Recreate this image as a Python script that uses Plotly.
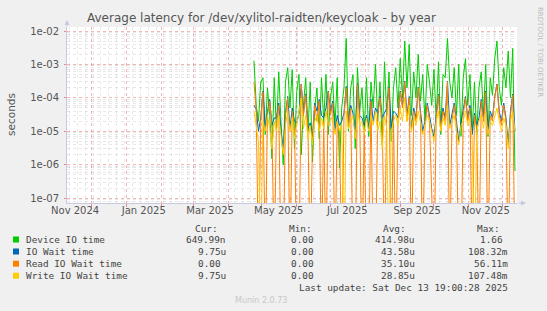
import pandas as pd
import plotly.graph_objects as go

# ---------------- data ----------------
start_date = "2025-04-24"
step_days = 2

device_io = [1.3e-3, 6e-5, 2e-5, 3e-4, 4e-4, 8e-6, 2e-4, 3e-5, 1.5e-6, 4e-4,
             1e-5, 6e-4, 2e-5, 1e-6, 3e-4, 8e-4, 5e-5, 7e-4, 3e-6, 1.5e-4,
             5e-4, 2e-6, 6e-5, 4e-4, 1e-5, 3e-4, 1.2e-6, 5e-5, 2e-4, 6e-6,
             4e-4, 2e-5, 5e-4, 8e-6, 1e-4, 3e-4, 1.5e-5, 4e-4, 8e-7, 5e-5,
             2e-4, 6e-3, 1e-5, 2e-4, 5e-4, 3e-6, 8e-4, 4e-5, 2e-4, 1e-5,
             4e-4, 7e-6, 3e-4, 5e-5, 1e-3, 2e-5, 3e-4, 4e-6, 1.2e-3, 3e-5,
             6e-4, 5e-6, 2e-4, 8e-4, 5e-5, 1.5e-3, 1e-4, 5e-3, 2e-4, 4e-3,
             3e-5, 6e-4, 1e-4, 2e-3, 8e-5, 5e-4, 2e-5, 1e-3, 3e-4, 6e-5,
             7e-4, 2e-5, 1.2e-3, 8e-6, 5e-4, 4e-4, 6e-3, 3e-4, 1e-4, 8e-4,
             3e-5, 1e-3, 7e-6, 4e-4, 1.5e-3, 6e-5, 5e-4, 1e-5, 3e-4, 8e-6,
             2e-4, 6e-4, 3e-5, 1e-3, 7e-6, 4e-4, 1.2e-4, 1.5e-3, 5e-3, 2e-4,
             6e-5, 8e-4, 2e-4, 2.5e-3, 1e-4, 3e-3, 6.5e-7]

io_wait = [6e-5, 4.5e-5, 1e-5, 2.5e-5, 1.6e-4, 1.2e-5, 4e-5, 9e-5, 1.5e-5, 2.5e-5,
           2.5e-5, 7e-5, 1e-5, 3e-6, 3.5e-5, 1.1e-4, 1.2e-5, 5e-5, 2e-5, 1.8e-5,
           3.5e-5, 2.6e-4, 3.5e-5, 1.3e-4, 1.2e-5, 1.8e-5, 7e-6, 7e-5, 4e-5, 9e-5,
           3e-5, 2.5e-5, 5e-5, 1.6e-4, 4e-5, 8e-5, 1e-5, 3e-5, 1.5e-5, 2e-5,
           3.5e-5, 2.2e-4, 2e-5, 6e-5, 3.5e-5, 8e-6, 2.7e-4, 3e-5, 2.5e-5, 1.5e-5,
           3e-5, 1.2e-5, 9e-5, 2e-5, 5e-5, 3.5e-5, 1.1e-4, 2.5e-5, 3.5e-5, 5e-5,
           2.1e-4, 1.2e-5, 4e-5, 3.5e-5, 2.5e-5, 1.6e-4, 6e-5, 3.2e-4, 3e-5, 1.1e-4,
           1.2e-5, 5e-5, 2.5e-5, 2.1e-4, 4e-5, 1e-5, 2e-5, 7e-5, 3e-5, 1.2e-5,
           7e-6, 3e-5, 1.3e-4, 1.5e-5, 5e-5, 2.5e-5, 3.1e-4, 1.5e-5, 3e-5, 7e-5,
           2e-5, 5e-6, 1.8e-5, 4e-5, 1.1e-4, 2.5e-5, 6e-5, 8e-6, 3.5e-5, 1.5e-5,
           2.5e-5, 9e-5, 2.5e-5, 1.6e-4, 1e-5, 4e-5, 2.5e-5, 1.1e-4, 2.6e-4, 4e-5,
           2e-5, 7e-5, 2.5e-5, 4e-6, 4e-5, 1.3e-4, 9.75e-6]

read_io = [3e-4, 4e-5, 0, 2e-5, 1.5e-4, 0, 3e-5, 8e-5, 1.2e-5, 0,
           2e-5, 6e-5, 0, 0, 3e-5, 1e-4, 0, 4e-5, 1.5e-5, 0,
           0, 2.5e-4, 3e-5, 1.2e-4, 1e-5, 0, 5e-6, 6e-5, 2e-5, 8e-5,
           0, 2e-5, 0, 1.5e-4, 3e-5, 7e-5, 0, 2e-5, 1e-5, 0,
           3e-5, 2e-4, 1.5e-5, 5e-5, 0, 0, 2.5e-4, 2e-5, 0, 1.2e-5,
           0, 0, 8e-5, 0, 0, 3e-5, 1e-4, 2e-5, 0, 4e-5,
           2e-4, 0, 3e-5, 0, 2e-5, 1.5e-4, 5e-5, 3e-4, 2e-5, 1e-4,
           0, 4e-5, 2e-5, 2e-4, 3e-5, 0, 1.5e-5, 6e-5, 2e-5, 0,
           0, 2.5e-5, 1.2e-4, 1e-5, 4e-5, 2e-5, 3e-4, 0, 2e-5, 6e-5,
           1.5e-5, 0, 0, 3e-5, 1e-4, 2e-5, 5e-5, 0, 3e-5, 1.2e-5,
           0, 8e-5, 2e-5, 1.5e-4, 0, 3e-5, 2e-5, 1e-4, 2.5e-4, 3e-5,
           1.5e-5, 6e-5, 2e-5, 0, 3e-5, 1.2e-4, 0]

write_io = [4e-5, 1.5e-5, 5e-6, 0, 2e-5, 1e-5, 3e-5, 1.2e-5, 3e-6, 2e-5,
            1e-5, 3e-5, 8e-6, 2e-6, 1.5e-5, 4e-5, 1e-5, 2.5e-5, 6e-6, 1.5e-5,
            3e-5, 1e-4, 1.2e-5, 3e-5, 6e-6, 1.5e-5, 4e-6, 2e-5, 3e-5, 1e-5,
            2.5e-5, 1.2e-5, 4e-5, 1.5e-5, 2e-5, 3e-5, 8e-6, 2e-5, 1e-5, 1.5e-5,
            0, 4e-5, 1.2e-5, 2e-5, 3e-5, 6e-6, 5e-5, 1.5e-5, 2e-5, 8e-6,
            2.5e-5, 1e-5, 3e-5, 1.5e-5, 4e-5, 1e-5, 2e-5, 3e-6, 3e-5, 1.2e-5,
            0, 1e-5, 2e-5, 3e-5, 1.5e-5, 5e-5, 2e-5, 1e-4, 2e-5, 6e-5,
            1e-5, 3e-5, 1.5e-5, 4e-5, 2e-5, 8e-6, 1.5e-5, 3e-5, 2e-5, 1e-5,
            5e-6, 2e-5, 4e-5, 1e-5, 2.5e-5, 1.5e-5, 6e-5, 1.2e-5, 2e-5, 3e-5,
            1e-5, 4e-6, 1.5e-5, 2e-5, 4e-5, 1.5e-5, 2.5e-5, 6e-6, 0, 1e-5,
            2e-5, 3e-5, 1.2e-5, 4e-5, 8e-6, 2e-5, 1.5e-5, 3e-5, 5e-5, 2e-5,
            1e-5, 2.5e-5, 1.5e-5, 3e-6, 2e-5, 4e-5, 9.75e-6]

series_names = ["Device IO time", "IO Wait time", "Read IO Wait time", "Write IO Wait time"]
series_colors = ["#00CC00", "#0066B3", "#FF8000", "#FFCC00"]
cur_vals = ["649.99n", "9.75u", "0.00\u00a0", "9.75u"]
min_vals = ["0.00\u00a0", "0.00\u00a0", "0.00\u00a0", "0.00\u00a0"]
avg_vals = ["414.98u", "43.58u", "35.10u", "28.85u"]
max_vals = ["1.66\u00a0", "108.32m", "56.11m", "107.48m"]

x_labels = ["Nov 2024", "Jan 2025", "Mar 2025", "May 2025", "Jul 2025", "Sep 2025", "Nov 2025"]
y_tickvals = [1e-7, 1e-6, 1e-5, 1e-4, 1e-3, 1e-2]
y_ticktext = ["1e-07", "1e-06", "1e-05", "1e-04", "1e-03", "1e-02"]

# ---------------- figure ----------------
dates = pd.date_range(start_date, periods=len(device_io), freq=f"{step_days}D")
FLOOR = 1e-9  # zero values drawn down past the bottom of the log axis

fig = go.Figure()
for name, col, vals in zip(series_names, series_colors, [device_io, io_wait, read_io, write_io]):
    fig.add_trace(go.Scatter(x=dates, y=[max(v, FLOOR) for v in vals], mode="lines",
                             line=dict(color=col, width=1), name=name, showlegend=False))

X0 = pd.Timestamp("2024-11-08 19:00")
X1 = pd.Timestamp("2025-12-13 19:00")
month_starts = pd.date_range("2024-12-01", "2025-12-01", freq="MS")
weeks = pd.date_range("2024-11-11", "2025-12-13", freq="7D")
label_dates = pd.date_range("2024-11-01", periods=len(x_labels), freq="2MS") + pd.Timedelta(days=15)

minor_y = [k * 10.0 ** e for e in range(-8, -1) for k in range(2, 10)]

L, R, T, B = 67, 517, 27, 203
W, H = 547, 311
def pxx(x): return (x - L) / (R - L)
def pyy(y): return (B - y) / (B - T)

axis_col = "#C8C8E0"
major_grid = "rgba(230,110,110,0.5)"
minor_grid = "rgba(140,140,140,0.2)"
txt_col = "#555555"

fig.update_layout(
    width=W, height=H,
    margin=dict(l=L, r=W - R, t=T, b=H - B),
    paper_bgcolor="#F0F0F0", plot_bgcolor="white",
    showlegend=False,
    font=dict(family="DejaVu Sans", size=10, color=txt_col),
    xaxis=dict(type="date", range=[X0, X1], tickmode="array", tickvals=month_starts,
               showticklabels=False, ticks="outside", ticklen=3, tickcolor="rgba(230,110,110,0.8)",
               showgrid=True, gridcolor=major_grid, griddash="dot", gridwidth=1,
               minor=dict(tickmode="array", tickvals=weeks, showgrid=True, gridcolor=minor_grid,
                          griddash="dot", gridwidth=1, ticks=""),
               showline=True, linecolor=axis_col, linewidth=1, zeroline=False),
    xaxis2=dict(type="date", range=[X0, X1], overlaying="x", anchor="y", side="bottom",
                tickmode="array", tickvals=label_dates, ticktext=x_labels,
                showgrid=False, ticks="", showline=False, zeroline=False,
                tickfont=dict(family="DejaVu Sans", size=10, color=txt_col)),
    yaxis=dict(type="log", range=[-7.145, -1.88], tickmode="array", tickvals=y_tickvals,
               ticktext=y_ticktext, ticks="outside", ticklen=2, tickcolor="rgba(230,110,110,0.8)",
               showgrid=True, gridcolor=major_grid, griddash="dot", gridwidth=1,
               minor=dict(tickmode="array", tickvals=minor_y, showgrid=True, gridcolor=minor_grid,
                          griddash="dot", gridwidth=1, ticks=""),
               showline=True, linecolor=axis_col, linewidth=1, zeroline=False,
               ticklabelstandoff=3,
               tickfont=dict(family="DejaVu Sans", size=10, color=txt_col)),
)
# invisible anchor trace so the label axis is rendered
fig.add_trace(go.Scatter(x=[X0], y=[1e-3], xaxis="x2", mode="markers",
                         marker=dict(opacity=0), showlegend=False, hoverinfo="skip"))

ann = []
ann.append(dict(text="Average latency for /dev/xylitol-raidten/keycloak - by year",
                x=pxx(261.5), y=pyy(18), xref="paper", yref="paper", showarrow=False,
                xanchor="center", yanchor="middle",
                font=dict(family="DejaVu Sans", size=12, color="#555555")))
ann.append(dict(text="seconds", x=pxx(11), y=pyy(115), xref="paper", yref="paper",
                showarrow=False, textangle=-90, xanchor="center", yanchor="middle",
                font=dict(family="DejaVu Sans", size=10.5, color=txt_col)))
ann.append(dict(text="RRDTOOL / TOBI OETIKER", x=pxx(540), y=pyy(5), xref="paper", yref="paper",
                showarrow=False, textangle=90, xanchor="center", yanchor="top",
                font=dict(family="DejaVu Sans", size=7, color="#BBBBBB")))

mono = dict(family="DejaVu Sans Mono", size=9.4, color="#444444")
row_y = [239.5, 251.5, 263.7, 275.7]
for hx, ht in zip([193, 287, 381, 475], ["Cur:", "Min:", "Avg:", "Max:"]):
    ann.append(dict(text=ht, x=pxx(hx), y=pyy(228.3), xref="paper", yref="paper",
                    showarrow=False, xanchor="left", yanchor="middle", font=mono))
shapes = []
for i, name in enumerate(series_names):
    yy = row_y[i]
    ann.append(dict(text=name, x=pxx(24), y=pyy(yy), xref="paper", yref="paper",
                    showarrow=False, xanchor="left", yanchor="middle", font=mono))
    for rx, vals in zip([227.5, 321, 417, 509.5], [cur_vals, min_vals, avg_vals, max_vals]):
        ann.append(dict(text=vals[i], x=pxx(rx), y=pyy(yy), xref="paper", yref="paper",
                        showarrow=False, xanchor="right", yanchor="middle", font=mono))
    shapes.append(dict(type="rect", xref="paper", yref="paper",
                       x0=pxx(13), x1=pxx(19), y0=pyy(yy + 3), y1=pyy(yy - 3),
                       fillcolor=series_colors[i], line=dict(width=0)))
ann.append(dict(text="Last update: Sat Dec 13 19:00:28 2025", x=pxx(509.5), y=pyy(287.3),
                xref="paper", yref="paper", showarrow=False, xanchor="right", yanchor="middle",
                font=mono))
ann.append(dict(text="Munin 2.0.73", x=pxx(261), y=pyy(300.5), xref="paper", yref="paper",
                showarrow=False, xanchor="center", yanchor="middle",
                font=dict(family="DejaVu Sans", size=8, color="#C8C8C8")))
# axis arrows
ann.append(dict(text="", x=pxx(67), y=pyy(20), xref="paper", yref="paper", ax=0, ay=8,
                showarrow=True, arrowhead=2, arrowsize=1, arrowwidth=1, arrowcolor=axis_col))
ann.append(dict(text="", x=pxx(526), y=pyy(203), xref="paper", yref="paper", ax=-9, ay=0,
                showarrow=True, arrowhead=2, arrowsize=1, arrowwidth=1, arrowcolor=axis_col))

fig.update_layout(annotations=ann, shapes=shapes)
fig.write_html("out.html")
